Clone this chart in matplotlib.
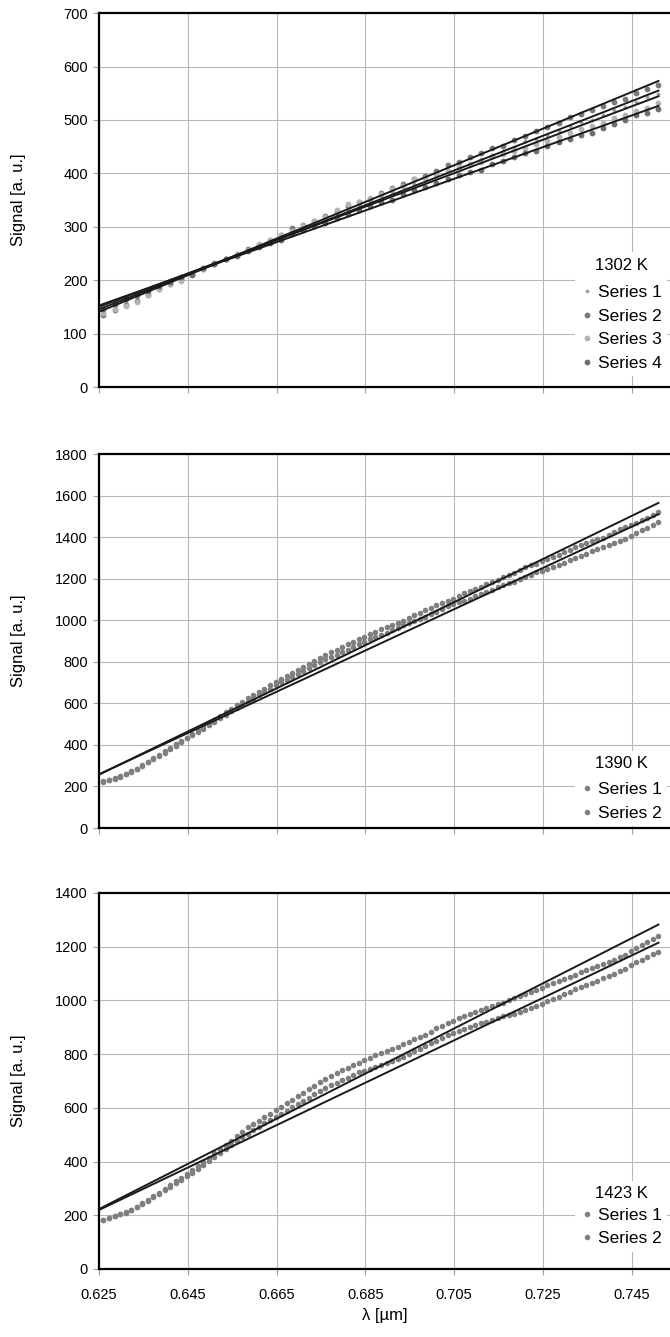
import numpy as np
import matplotlib.pyplot as plt

plt.rcParams['font.family'] = ['Liberation Sans', 'DejaVu Sans']

lam_top = np.round(0.626 + 0.0025 * np.arange(51), 5)
lam_fine = np.round(0.626 + 0.00125 * np.arange(101), 5)

# 1302 K
top_s1 = [140, 149, 158, 167, 176, 183, 194, 203, 212, 222,
          231, 240, 251, 257, 265, 274, 282, 291, 299, 305,
          315, 324, 332, 340, 348, 357, 365, 376, 381, 388,
          396, 404, 412, 416, 427, 435, 442, 450, 460, 465,
          472, 480, 488, 496, 500, 510, 518, 525, 533, 543, 548]
top_s2 = [135, 145, 154, 161, 173, 183, 192, 202, 211, 221,
          233, 240, 248, 258, 266, 276, 285, 297, 303, 311,
          320, 329, 338, 346, 352, 363, 372, 380, 389, 396,
          405, 416, 422, 430, 438, 447, 451, 463, 470, 479,
          486, 495, 505, 511, 518, 526, 534, 539, 550, 558, 566]
top_s3 = [138, 147, 152, 160, 172, 184, 193, 198, 212, 221,
          230, 239, 247, 256, 268, 276, 284, 293, 304, 311,
          319, 331, 343, 347, 354, 362, 370, 377, 389, 391,
          399, 404, 411, 418, 422, 433, 436, 441, 447, 455,
          461, 469, 475, 483, 489, 495, 503, 509, 517, 523, 531]
top_s4 = [147, 155, 164, 172, 180, 189, 197, 206, 210, 222,
          231, 239, 246, 255, 262, 270, 275, 286, 294, 301,
          308, 317, 324, 331, 339, 346, 350, 361, 368, 374,
          382, 389, 397, 403, 406, 418, 424, 431, 438, 441,
          451, 459, 465, 472, 476, 485, 493, 499, 509, 513, 520]

# 1390 K
mid_s1 = [224, 231, 240, 249, 260, 272, 286, 301, 318, 335,
          352, 369, 386, 403, 420, 433, 454, 471, 488, 505,
          522, 539, 556, 573, 590, 608, 626, 638, 654, 670,
          686, 701, 716, 731, 746, 761, 776, 790, 804, 818,
          832, 849, 858, 871, 884, 896, 908, 920, 932, 944,
          956, 968, 979, 988, 998, 1012, 1025, 1037, 1048, 1060,
          1071, 1083, 1094, 1102, 1117, 1129, 1140, 1151, 1162, 1173,
          1184, 1195, 1206, 1217, 1228, 1242, 1256, 1264, 1272, 1283,
          1294, 1305, 1316, 1327, 1338, 1352, 1360, 1371, 1382, 1390,
          1398, 1412, 1426, 1437, 1448, 1459, 1470, 1482, 1494, 1507,
          1520]
mid_s2 = [222, 229, 238, 247, 258, 270, 284, 299, 316, 331,
          346, 363, 380, 397, 414, 431, 448, 463, 478, 495,
          512, 529, 546, 563, 580, 594, 607, 623, 639, 655,
          671, 686, 701, 713, 726, 741, 756, 770, 784, 798,
          812, 823, 834, 845, 856, 870, 884, 896, 908, 918,
          929, 941, 952, 963, 975, 986, 998, 1008, 1018, 1030,
          1041, 1056, 1070, 1078, 1087, 1095, 1104, 1115, 1126, 1137,
          1148, 1159, 1170, 1178, 1186, 1197, 1208, 1219, 1230, 1238,
          1246, 1256, 1266, 1277, 1288, 1299, 1310, 1321, 1332, 1342,
          1352, 1363, 1374, 1383, 1392, 1406, 1420, 1432, 1444, 1458,
          1472]

# 1423 K
bot_s1 = [183, 189, 196, 204, 212, 221, 232, 244, 258, 271,
          284, 298, 312, 326, 340, 354, 368, 383, 398, 414,
          430, 446, 462, 478, 494, 511, 528, 540, 552, 565,
          578, 591, 604, 617, 630, 643, 656, 669, 682, 695,
          708, 719, 730, 740, 750, 759, 768, 777, 786, 795,
          804, 812, 820, 828, 836, 846, 856, 864, 872, 884,
          896, 906, 916, 925, 934, 942, 950, 957, 964, 971,
          978, 985, 992, 1001, 1010, 1016, 1022, 1030, 1038, 1047,
          1056, 1064, 1072, 1080, 1088, 1096, 1104, 1112, 1120, 1128,
          1136, 1144, 1152, 1161, 1170, 1183, 1196, 1207, 1218, 1229,
          1240]
bot_s2 = [183, 189, 196, 203, 210, 219, 230, 241, 254, 267,
          280, 293, 306, 319, 332, 345, 358, 372, 386, 401,
          416, 431, 446, 461, 476, 490, 504, 517, 530, 542,
          554, 566, 578, 590, 602, 614, 626, 638, 650, 662,
          674, 684, 694, 703, 712, 722, 732, 738, 744, 752,
          760, 768, 776, 783, 790, 800, 810, 820, 830, 840,
          850, 860, 870, 878, 886, 893, 900, 907, 914, 920,
          926, 934, 942, 946, 950, 957, 964, 971, 978, 987,
          996, 1005, 1014, 1023, 1032, 1041, 1050, 1057, 1064, 1074,
          1084, 1092, 1100, 1109, 1118, 1130, 1142, 1152, 1162, 1171,
          1180]

xticks = [0.625, 0.645, 0.665, 0.685, 0.705, 0.725, 0.745]

panels = [
    dict(title='1302 K', ymax=700, ystep=100, rect=[0.1478, 0.7105, 0.8522, 0.2797],
         lam=lam_top, leg_y=0.03, title_gap=9,
         series=[(top_s1, 'Series 1', 'D', '#9a9a9a', 2.4),
                 (top_s2, 'Series 2', 'o', '#7a7a7a', 4.2),
                 (top_s3, 'Series 3', 'o', '#b4b4b4', 4.2),
                 (top_s4, 'Series 4', 'o', '#6e6e6e', 4.2)]),
    dict(title='1390 K', ymax=1800, ystep=200, rect=[0.1478, 0.3807, 0.8522, 0.2797],
         lam=lam_fine, leg_y=0.005, title_gap=8,
         series=[(mid_s1, 'Series 1', 'o', '#7f7f7f', 4.0),
                 (mid_s2, 'Series 2', 'o', '#7f7f7f', 4.0)]),
    dict(title='1423 K', ymax=1400, ystep=200, rect=[0.1478, 0.0509, 0.8522, 0.2812],
         lam=lam_fine, leg_y=0.046, title_gap=5,
         series=[(bot_s1, 'Series 1', 'o', '#7f7f7f', 4.0),
                 (bot_s2, 'Series 2', 'o', '#7f7f7f', 4.0)]),
]

fig = plt.figure(figsize=(6.7, 13.37), dpi=100)

for k, p in enumerate(panels):
    ax = fig.add_axes(p['rect'])
    lam = p['lam']
    handles = []
    for vals, label, mk, col, ms in p['series']:
        h, = ax.plot(lam, vals, linestyle='none', marker=mk, ms=ms, color=col,
                     markeredgewidth=0, label=label, zorder=3)
        handles.append(h)
    # linear trendlines
    for vals, *_ in p['series']:
        a, b = np.polyfit(lam, vals, 1)
        xx = np.array([0.625, lam[-1]])
        ax.plot(xx, a * xx + b, color='#1a1a1a', lw=1.4, zorder=4)

    ax.set_xlim(0.625, 0.7536)
    ax.set_ylim(0, p['ymax'])
    ax.set_xticks(xticks)
    ax.set_yticks(np.arange(0, p['ymax'] + 1, p['ystep']))
    ax.grid(True, color='#b8b8b8', lw=0.8)
    ax.set_axisbelow(True)
    for s in ['left', 'bottom', 'top']:
        ax.spines[s].set_linewidth(1.6)
        ax.spines[s].set_color('black')
    ax.spines['right'].set_visible(False)
    ax.tick_params(length=4, width=0.8, color='#a0a0a0', labelsize=10.5, pad=4)
    ax.tick_params(axis='x', pad=10)
    ax.set_ylabel('Signal [a. u.]', fontsize=12)
    ax.yaxis.set_label_coords(-0.128, 0.5)
    if k == 2:
        ax.set_xticklabels([f'{t:.3f}' for t in xticks])
        ax.set_xlabel('λ [µm]', fontsize=12, labelpad=4)
    else:
        ax.set_xticklabels([])

    leg = ax.legend(handles=handles, title=p['title'], loc='lower right',
                    bbox_to_anchor=(0.995, p['leg_y']), frameon=True, facecolor='white',
                    edgecolor='none', framealpha=1, fancybox=False,
                    fontsize=12.5, title_fontsize=12, handlelength=0.7,
                    handletextpad=0.3, labelspacing=0.48, borderpad=0.3,
                    borderaxespad=0.0, markerscale=1.0)
    leg._legend_box.sep = p['title_gap']  # a bit more room under the title
    leg.set_zorder(5)

fig.savefig('out.png', dpi=100)
